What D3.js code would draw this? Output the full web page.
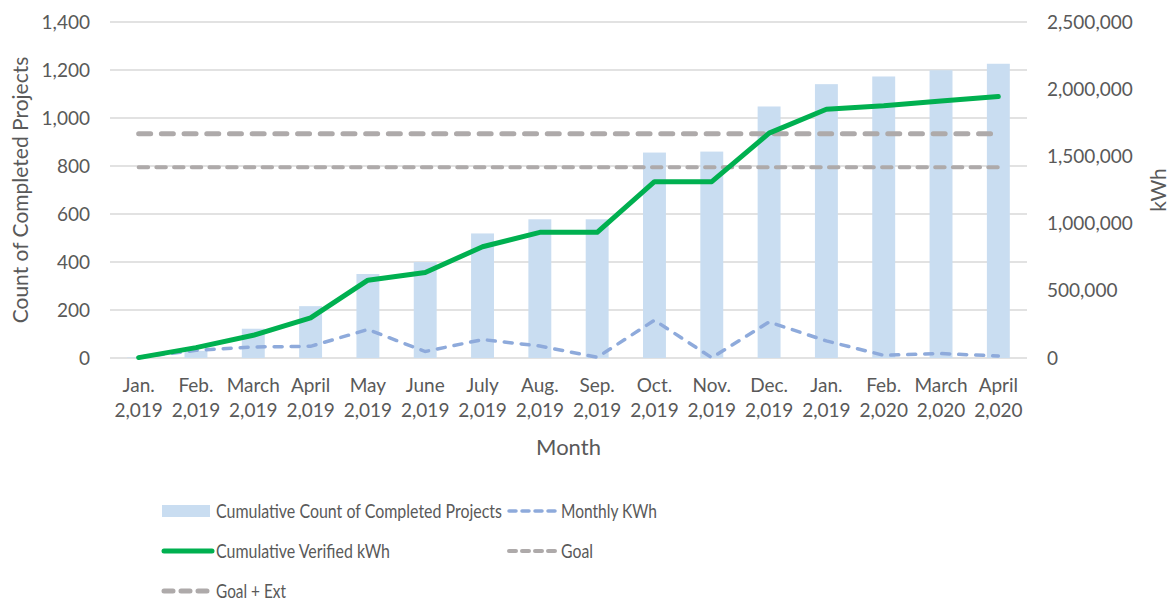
<!DOCTYPE html>
<html>
<head>
<meta charset="utf-8">
<script src="https://cdn.jsdelivr.net/npm/d3@7"></script>
<style>
  body { margin: 0; background: #fff; }
  text { font-family: Lato, "DejaVu Sans", sans-serif; fill: #595959; }
</style>
</head>
<body>
<div id="chart"></div>
<script>
// Chart data
const months = ["Jan.", "Feb.", "March", "April", "May", "June", "July", "Aug.",
  "Sep.", "Oct.", "Nov.", "Dec.", "Jan.", "Feb.", "March", "April"];
const years = ["2,019", "2,019", "2,019", "2,019", "2,019", "2,019", "2,019", "2,019",
  "2,019", "2,019", "2,019", "2,019", "2,019", "2,020", "2,020", "2,020"];
const projectCounts = [2, 30, 122, 216, 350, 400, 519, 578, 578, 856, 860, 1048, 1141, 1173, 1199, 1226];
const cumulativeKwh = [3000, 77000, 169000, 298000, 579000, 636000, 828000, 935000, 935000,
  1312000, 1312000, 1673000, 1851000, 1876000, 1912000, 1945000];
const monthlyKwh = [5000, 57000, 82000, 87000, 212000, 48000, 137000, 89000, 5000,
  281000, 2000, 268000, 127000, 20000, 33000, 15000];
const goal = 795;
const goalExt = 934;
const leftTicks = [0, 200, 400, 600, 800, 1000, 1200, 1400];
const rightTicks = [0, 500000, 1000000, 1500000, 2000000, 2500000];

const width = 1169, height = 602;
const margin = { left: 110, right: 142, top: 22, bottom: 244 };
const innerW = width - margin.left - margin.right;
const innerH = height - margin.top - margin.bottom;

const svg = d3.select("#chart").append("svg").attr("width", width).attr("height", height);
const g = svg.append("g").attr("transform", `translate(${margin.left},${margin.top})`);

const idx = months.map((d, i) => i);
const x = d3.scaleBand().domain(idx).range([0, innerW]).padding(0);
const cx = (i) => x(i) + x.bandwidth() / 2;
const yL = d3.scaleLinear().domain([0, 1400]).range([innerH, 0]);
const yR = d3.scaleLinear().domain([0, 2500000]).range([innerH, 0]);
const fmt = d3.format(",");

// gridlines
g.append("g")
  .selectAll("line")
  .data(leftTicks)
  .join("line")
  .attr("x1", 0).attr("x2", innerW)
  .attr("y1", (d) => yL(d)).attr("y2", (d) => yL(d))
  .attr("stroke", "#d9d9d9").attr("stroke-width", 1.5);

// left axis
const axL = g.append("g").call(d3.axisLeft(yL).tickValues(leftTicks).tickFormat(fmt).tickSize(0).tickPadding(20));
axL.select(".domain").remove();
axL.selectAll("text").style("font-size", "19px").style("font-family", "Lato").attr("fill", "#595959");

// right axis
const axR = g.append("g").attr("transform", `translate(${innerW},0)`)
  .call(d3.axisRight(yR).tickValues(rightTicks).tickFormat(fmt).tickSize(0).tickPadding(20));
axR.select(".domain").remove();
axR.selectAll("text").style("font-size", "19px").style("font-family", "Lato").attr("fill", "#595959");

// x labels, two lines
const xl = g.append("g").attr("transform", `translate(0,${innerH})`);
xl.selectAll(".m").data(idx).join("text")
  .attr("class", "m")
  .attr("x", (i) => cx(i)).attr("y", 34)
  .attr("text-anchor", "middle").style("font-size", "19px")
  .text((i) => months[i]);
xl.selectAll(".yr").data(idx).join("text")
  .attr("class", "yr")
  .attr("x", (i) => cx(i)).attr("y", 59)
  .attr("text-anchor", "middle").style("font-size", "19px")
  .text((i) => years[i]);

// axis titles
g.append("text").attr("x", innerW / 2).attr("y", innerH + 97)
  .attr("text-anchor", "middle").style("font-size", "22px").text("Month");
svg.append("text").attr("transform", `translate(28,${margin.top + innerH / 2}) rotate(-90)`)
  .attr("text-anchor", "middle").style("font-size", "21px").text("Count of Completed Projects");
svg.append("text").attr("transform", `translate(1166,${margin.top + innerH / 2}) rotate(-90)`)
  .attr("text-anchor", "middle").style("font-size", "21px").text("kWh");

// bars
const barW = x.bandwidth() * 0.4;
g.selectAll(".bar").data(idx).join("rect")
  .attr("class", "bar")
  .attr("x", (i) => cx(i) - barW / 2)
  .attr("y", (i) => yL(projectCounts[i]))
  .attr("width", barW)
  .attr("height", (i) => innerH - yL(projectCounts[i]))
  .attr("fill", "#c9ddf1");

// goal lines
const goalLine = (v, w, dash) =>
  g.append("line")
    .attr("x1", cx(0)).attr("x2", cx(idx.length - 1))
    .attr("y1", yL(v)).attr("y2", yL(v))
    .attr("stroke", "#aeaaaa").attr("stroke-width", w)
    .attr("stroke-linecap", "round").attr("stroke-dasharray", dash);
goalLine(goalExt, 5, "12 10.7");
goalLine(goal, 4, "9.5 8.2");

// monthly kWh dashed line
g.append("path")
  .datum(idx)
  .attr("fill", "none").attr("stroke", "#8eaadb").attr("stroke-width", 3.5)
  .attr("stroke-linecap", "round").attr("stroke-dasharray", "8 9")
  .attr("d", d3.line().x((i) => cx(i)).y((i) => yR(monthlyKwh[i])));

// cumulative kWh line
g.append("path")
  .datum(idx)
  .attr("fill", "none").attr("stroke", "#00b050").attr("stroke-width", 5)
  .attr("stroke-linecap", "round").attr("stroke-linejoin", "round")
  .attr("d", d3.line().x((i) => cx(i)).y((i) => yR(cumulativeKwh[i])));

// legend
const lg = svg.append("g");
const items = [
  { label: "Cumulative Count of Completed Projects", type: "bar", x: 162, y: 511, w: 286 },
  { label: "Monthly KWh", type: "monthly", x: 507, y: 511, w: 96 },
  { label: "Cumulative Verified kWh", type: "cum", x: 162, y: 551, w: 174 },
  { label: "Goal", type: "goal", x: 507, y: 551, w: 32 },
  { label: "Goal + Ext", type: "ext", x: 162, y: 591, w: 70 }
];
items.forEach((d) => {
  const it = lg.append("g").attr("transform", `translate(${d.x},${d.y})`);
  if (d.type === "bar") {
    it.append("rect").attr("x", 0).attr("y", -6).attr("width", 48).attr("height", 12).attr("fill", "#c9ddf1");
  } else {
    const st = {
      monthly: ["#8eaadb", 3.5, "7 6"],
      cum: ["#00b050", 5, null],
      goal: ["#aeaaaa", 4, "7 6"],
      ext: ["#aeaaaa", 5, "9 8"]
    }[d.type];
    it.append("line").attr("x1", 2).attr("x2", 50).attr("y1", 0).attr("y2", 0)
      .attr("stroke", st[0]).attr("stroke-width", st[1])
      .attr("stroke-linecap", "round").attr("stroke-dasharray", st[2]);
  }
  it.append("text").attr("x", 54).attr("y", 0).attr("dy", "0.35em")
    .style("font-size", "19px")
    .attr("textLength", d.w).attr("lengthAdjust", "spacingAndGlyphs")
    .text(d.label);
});
</script>
</body>
</html>
